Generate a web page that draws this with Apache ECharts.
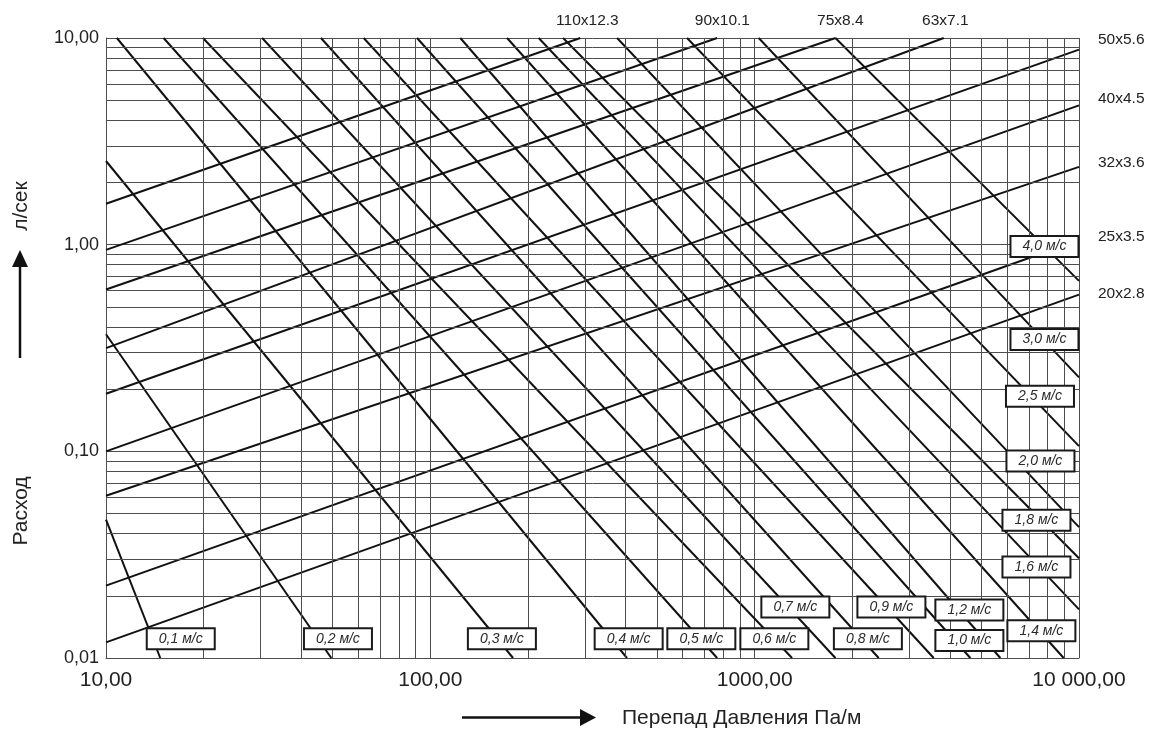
<!DOCTYPE html>
<html><head><meta charset="utf-8">
<script src="https://cdn.jsdelivr.net/npm/echarts@6/dist/echarts.min.js"></script>
<style>html,body{margin:0;padding:0;background:#fff}#c{width:1152px;height:730px}</style>
</head><body><div id="c"></div>
<script>
// ---- data (x: pressure drop Pa/m, y: flow l/s) ----
const pipeNames = ['110x12.3','90x10.1','75x8.4','63x7.1','50x5.6','40x4.5','32x3.6','25x3.5','20x2.8'];
const pipeStart = [[10,1.578],[10,0.944],[10,0.607],[10,0.316],[10,0.190],[10,0.100],[10,0.061],[10,0.0224],[10,0.0119]];
const pipeEnd   = [[290,10],[766,10],[1775,10],[3828,10],[10000,8.79],[10000,4.72],[10000,2.38],[10000,1.05],[10000,0.573]];
const pipeLabelAt = [[305,10],[795,10],[1837,10],[3873,10],[10000,9.81],[10000,5.08],[10000,2.50],[10000,1.095],[10000,0.577]];

const speedNames = ['0,1 м/с','0,2 м/с','0,3 м/с','0,4 м/с','0,5 м/с','0,6 м/с','0,7 м/с','0,8 м/с','0,9 м/с',
                    '1,0 м/с','1,2 м/с','1,4 м/с','1,6 м/с','1,8 м/с','2,0 м/с','2,5 м/с','3,0 м/с','4,0 м/с'];
const speedStart = [[10,0.0467],[10,0.3685],[10,2.54],[10.8,10],[15.05,10],[19.9,10],[30.3,10],[46.0,10],[62.3,10],
                    [91.0,10],[123.7,10],[172.4,10],[215.8,10],[256.6,10],[376.5,10],[618.7,10],[1029,10],[1774,10]];
const speedEnd   = [[14.7,0.01],[49.5,0.01],[179.9,0.01],[404,0.01],[766,0.01],[1304,0.01],[1774,0.01],[2412,0.01],[3565,0.01],
                    [4624,0.01],[5722,0.01],[8970,0.01],[10000,0.0172],[10000,0.0304],[10000,0.043],[10000,0.106],[10000,0.228],[10000,0.668]];
const speedLabelAt = [[17.0,0.0124],[51.9,0.0124],[166.2,0.0124],[408.8,0.0124],[684.8,0.0124],[1150,0.0124],[1335,0.01766],
                      [2234,0.0124],[2640,0.01766],[4592,0.01215],[4592,0.01706],[7656,0.01356],[7393,0.02756],[7393,0.04646],
                      [7606,0.0899],[7580,0.1847],[7826,0.348],[7826,0.9806]];

const xMinor = [20,30,40,50,60,70,80,90,200,300,400,500,600,700,800,900,2000,3000,4000,5000,6000,7000,8000,9000];
const yMinor = [0.02,0.03,0.04,0.05,0.06,0.07,0.08,0.09,0.2,0.3,0.4,0.5,0.6,0.7,0.8,0.9,2,3,4,5,6,7,8,9];

const FONT = 'Liberation Sans, Arial, sans-serif';
const GRID = '#4d4d4d';
const INK = '#111';

const series = [];
series.push({
  type:'line', data:[], silent:true, animation:false,
  markLine:{
    silent:true, animation:false, symbol:['none','none'], label:{show:false},
    lineStyle:{type:'solid', color:GRID, width:1},
    emphasis:{disabled:true},
    data: xMinor.map(v=>({xAxis:v})).concat(yMinor.map(v=>({yAxis:v})))
  }
});
pipeNames.forEach((n,i)=>{
  series.push({type:'line', name:n, data:[pipeStart[i], pipeEnd[i]], showSymbol:false, silent:true,
    animation:false, clip:true, lineStyle:{color:INK, width:2}});
});
speedNames.forEach((n,i)=>{
  series.push({type:'line', name:n, data:[speedStart[i], speedEnd[i]], showSymbol:false, silent:true,
    animation:false, clip:true, lineStyle:{color:INK, width:2}});
});
series.push({
  type:'scatter', silent:true, animation:false, clip:false, z:5,
  symbolSize:0, itemStyle:{opacity:1},
  label:{show:true, position:'inside', formatter:p=>p.name, fontFamily:FONT, fontStyle:'italic', fontSize:14, color:'#2a2a2a',
    backgroundColor:'#fff', borderColor:'#1a1a1a', borderWidth:2, width:66, height:19, lineHeight:19,
    align:'center', verticalAlign:'middle', padding:0},
  data: speedLabelAt.map((p,i)=>({name:speedNames[i], value:p}))
});
series.push({
  type:'scatter', silent:true, animation:false, clip:false, z:5, symbolSize:0,
  itemStyle:{opacity:1},
  data: pipeLabelAt.map((p,i)=>({name:pipeNames[i], value:p,
    label: i<4 ? {position:'top', distance:9} : {position:'right', distance:19}})),
  label:{show:true, formatter:p=>p.name, fontFamily:FONT, fontSize:15.5, color:'#222'}
});

const chart = echarts.init(document.getElementById('c'), null, {renderer:'canvas'});
chart.setOption({
  backgroundColor:'#fff',
  animation:false,
  grid:{left:106, right:73, top:38, bottom:72, containLabel:false},
  xAxis:{type:'log', logBase:10, min:10, max:10000,
    axisLine:{show:true, lineStyle:{color:GRID, width:1}}, axisTick:{show:false},
    axisLabel:{fontFamily:FONT, fontSize:21, color:'#222', margin:12,
      formatter:v=> v===10000 ? '10 000,00' : v.toFixed(2).replace('.',',')},
    splitLine:{show:true, lineStyle:{color:GRID, width:1}}},
  yAxis:{type:'log', logBase:10, min:0.01, max:10,
    axisLine:{show:true, lineStyle:{color:GRID, width:1}}, axisTick:{show:false},
    axisLabel:{fontFamily:FONT, fontSize:18, color:'#222', margin:7,
      formatter:v=> v.toFixed(2).replace('.',',')},
    splitLine:{show:true, lineStyle:{color:GRID, width:1}}},
  graphic:[
    {type:'line', shape:{x1:462,y1:717.5,x2:582,y2:717.5}, style:{stroke:INK, lineWidth:2.5}},
    {type:'polygon', shape:{points:[[580,709],[596,717.5],[580,726]]}, style:{fill:INK}},
    {type:'text', x:622, y:718, style:{text:'Перепад Давления Па/м', fill:'#222', fontSize:21, fontFamily:FONT, align:'left', verticalAlign:'middle'}},
    {type:'line', shape:{x1:20,y1:358,x2:20,y2:265}, style:{stroke:INK, lineWidth:2.5}},
    {type:'polygon', shape:{points:[[12,267],[20,250],[28,267]]}, style:{fill:INK}},
    {type:'text', x:21, y:206, rotation:Math.PI/2, style:{text:'л/сек', fill:'#222', fontSize:21, fontFamily:FONT, align:'center', verticalAlign:'middle'}},
    {type:'text', x:21, y:511, rotation:Math.PI/2, style:{text:'Расход', fill:'#222', fontSize:21, fontFamily:FONT, align:'center', verticalAlign:'middle'}}
  ],
  series: series
});
</script></body></html>
